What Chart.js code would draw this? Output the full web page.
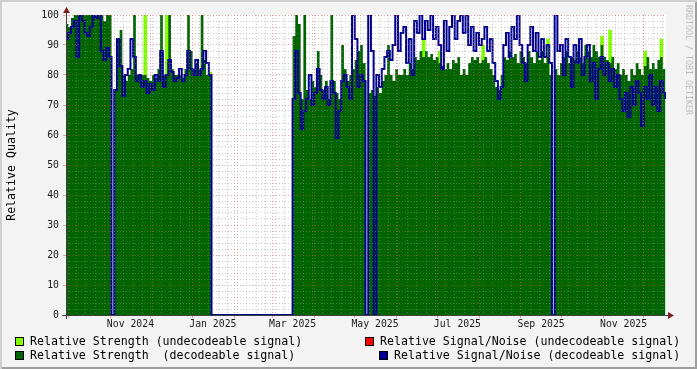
<!DOCTYPE html>
<html>
<head>
<meta charset="utf-8">
<title>Relative Quality</title>
<script src="https://cdn.jsdelivr.net/npm/chart.js@4.4.1/dist/chart.umd.min.js"></script>
<style>
  html, body { margin: 0; padding: 0; background: #f3f3f3; }
  #wrap { position: relative; width: 697px; height: 369px; background: #f3f3f3;
          box-shadow: inset 2px 2px 0 #cfcfcf, inset -2px -2px 0 #9e9e9e;
          font-family: "DejaVu Sans Mono", monospace; color: #000; overflow: hidden; }
  #wrap canvas { position: absolute; left: 0; top: 0; }
  .txt { position: absolute; white-space: pre; font-size: 11.6px; line-height: 14px; }
  .sw { position: absolute; width: 9px; height: 9px; box-sizing: border-box; border: 1px solid #000; }
  #ytitle { position: absolute; left: -89px; top: 158px; width: 200px; height: 14px; text-align: center;
            transform: rotate(-90deg); font-size: 11.6px; line-height: 14px; white-space: pre; }
  #mark { position: absolute; left: 684px; top: 5px; writing-mode: vertical-rl; font-size: 8.3px;
          line-height: 9px; color: #bdbdbd; white-space: pre; }
</style>
</head>
<body>
<div id="wrap">
  <canvas id="chart" width="697" height="369"></canvas>
  <div id="ytitle">Relative Quality</div>
  <div id="mark">RRDTOOL / TOBI OETIKER</div>
  <div class="sw" style="left:15px;top:337px;background:#80ff00"></div>
  <div class="txt" style="left:30px;top:334px">Relative Strength (undecodeable signal)</div>
  <div class="sw" style="left:15px;top:351px;background:#006400"></div>
  <div class="txt" style="left:30px;top:348px">Relative Strength  (decodeable signal)</div>
  <div class="sw" style="left:365px;top:337px;background:#ff0000"></div>
  <div class="txt" style="left:380px;top:334px">Relative Signal/Noise (undecodeable signal)</div>
  <div class="sw" style="left:379px;top:351px;background:#000090"></div>
  <div class="txt" style="left:394px;top:348px">Relative Signal/Noise (decodeable signal)</div>
</div>
<script>
// x axis counts days from 1 Oct 2024
const xMin = -1.7, xMax = 442.4;

const days = [
  -2,0,2,4,6,8,10,12,14,16,18,20,22,24,26,28,30,
  32,
  34,36,38,40,42,44,46,48,50,52,54,56,58,60,62,64,66,68,70,72,
  74,76,78,80,82,84,86,88,90,92,94,96,98,100,102,104,
  106,164,
  166,168,170,172,174,176,178,180,182,184,186,188,190,192,194,196,198,200,202,204,
  206,208,210,212,214,216,218,220,222,224,226,228,230,232,234,236,238,240,242,244,
  246,248,250,252,254,256,258,260,262,264,266,268,270,272,274,276,278,280,282,284,
  286,288,290,292,294,296,298,300,302,304,306,308,310,312,314,316,318,320,322,324,
  326,328,330,332,334,336,338,340,342,344,346,348,350,352,354,356,358,360,362,364,
  366,368,370,372,374,376,378,380,382,384,386,388,390,392,394,396,398,400,402,404,
  406,408,410,412,414,416,418,420,422,424,426,428,430,432,434,436,438,440,442
];

// Relative Strength (decodeable signal)
const strengthDec = [
  97,96,99,100,100,100,100,100,100,100,100,100,100,100,98,100,100,
  0,
  75,92,95,80,78,80,82,100,80,80,80,80,79,78,80,79,82,100,80,80,
  100,82,80,80,80,79,82,100,88,82,84,82,100,85,80,80,
  0,0,
  93,100,97,72,100,75,72,78,76,88,80,75,78,72,100,78,74,72,90,82,
  78,80,82,85,88,90,84,0,74,75,73,76,74,78,80,90,80,78,82,80,
  80,82,80,84,82,86,85,88,86,88,86,87,85,86,84,83,82,84,82,85,
  84,86,80,82,80,84,86,85,86,84,85,86,84,82,80,76,75,80,86,85,
  88,86,87,84,88,86,84,88,86,84,88,85,88,84,86,80,0,82,80,84,
  86,88,84,86,85,88,86,84,90,88,86,90,88,86,90,86,85,84,86,82,
  84,80,82,80,78,82,80,84,82,80,83,86,82,84,82,85,86,82,80
];

// Relative Signal/Noise (decodeable signal)
const snDec = [
  92,94,96,98,86,100,98,94,93,96,100,99,100,88,85,89,86,
  0,
  75,92,83,73,80,82,92,86,78,80,76,78,74,77,75,80,78,88,76,80,
  85,81,78,79,82,78,80,88,82,80,85,80,82,88,84,80,
  0,0,
  72,88,74,62,68,72,80,70,74,82,75,72,76,70,78,74,59,68,78,80,
  76,72,100,92,76,80,78,0,100,88,0,80,76,82,86,88,85,90,100,88,
  94,96,84,92,80,98,94,100,92,98,95,100,92,96,90,82,98,88,96,100,
  92,98,100,94,100,90,96,88,94,90,92,96,88,92,84,78,72,76,90,94,
  86,96,92,100,90,84,78,90,96,88,94,86,92,86,90,84,0,100,88,90,
  80,92,86,76,90,84,92,80,86,90,78,84,72,82,86,80,84,78,82,76,
  80,72,68,74,66,76,70,78,74,63,76,72,80,70,76,68,78,74,72
];

// Relative Strength (undecodeable signal), only where it shows above the decodeable area
const undecDays = [57, 73, 105, 263, 275, 307, 355, 395, 401, 427, 439];
const strengthUndec = [100, 100, 81, 92, 88, 90, 92, 93, 95, 88, 92];

const monthStarts = [0, 31, 61, 92, 123, 151, 182, 212, 243, 273, 304, 335, 365, 396, 426];
const labelDays = [46, 107, 166, 227, 288, 350, 411];
const monthLabels = ['Nov 2024', 'Jan 2025', 'Mar 2025', 'May 2025', 'Jul 2025', 'Sep 2025', 'Nov 2025'];

// weekly minor grid, Mondays
const weekDays = [];
for (let d = -1; d <= xMax; d += 7) weekDays.push(d);

const tickFont = { family: 'DejaVu Sans Mono', size: 9.8 };
const minorGrid = 'rgba(143,143,143,0.45)';
const majorGrid = 'rgba(222,79,79,0.5)';

const frame = {
  id: 'frame',
  beforeDraw(chart) {
    const { ctx, chartArea: a } = chart;
    ctx.save();
    ctx.fillStyle = '#ffffff';
    ctx.fillRect(a.left, a.top, a.right - a.left, a.bottom - a.top);
    ctx.restore();
  },
  afterDraw(chart) {
    const { ctx, chartArea: a } = chart;
    ctx.save();
    ctx.strokeStyle = '#404040';
    ctx.lineWidth = 1;
    ctx.beginPath();
    ctx.moveTo(a.left - 4, a.bottom + 0.5);
    ctx.lineTo(a.right + 4, a.bottom + 0.5);
    ctx.moveTo(a.left + 0.5, a.bottom + 4);
    ctx.lineTo(a.left + 0.5, a.top - 4);
    ctx.stroke();
    ctx.fillStyle = '#801f1f';
    ctx.beginPath();
    ctx.moveTo(a.right + 2, a.bottom - 3);
    ctx.lineTo(a.right + 2, a.bottom + 4);
    ctx.lineTo(a.right + 8, a.bottom + 0.5);
    ctx.closePath();
    ctx.fill();
    ctx.beginPath();
    ctx.moveTo(a.left - 3, a.top - 2);
    ctx.lineTo(a.left + 4, a.top - 2);
    ctx.lineTo(a.left + 0.5, a.top - 8);
    ctx.closePath();
    ctx.fill();
    ctx.restore();
  }
};

new Chart(document.getElementById('chart'), {
  type: 'line',
  data: {
    datasets: [
      {
        type: 'bar',
        label: 'Relative Strength (undecodeable signal)',
        data: undecDays.map((d, i) => ({ x: d, y: strengthUndec[i] })),
        backgroundColor: '#80ff00',
        barThickness: 3,
        order: 3,
        xAxisID: 'x', yAxisID: 'y'
      },
      {
        label: 'Relative Strength  (decodeable signal)',
        data: days.map((d, i) => ({ x: d, y: strengthDec[i] })),
        stepped: true,
        fill: 'origin',
        backgroundColor: '#006400',
        borderColor: 'rgba(0,0,0,0)',
        borderWidth: 0,
        pointRadius: 0,
        order: 2,
        xAxisID: 'x', yAxisID: 'y'
      },
      {
        label: 'Relative Signal/Noise (decodeable signal)',
        data: days.map((d, i) => ({ x: d, y: snDec[i] })),
        stepped: true,
        fill: false,
        borderColor: '#000090',
        borderWidth: 2,
        pointRadius: 0,
        order: 1,
        xAxisID: 'x', yAxisID: 'y'
      }
    ]
  },
  options: {
    responsive: false,
    animation: false,
    layout: { padding: { left: 0, top: 15, right: 31, bottom: 34 } },
    plugins: { legend: { display: false }, tooltip: { enabled: false } },
    scales: {
      y: {
        min: 0, max: 100, position: 'left',
        ticks: { stepSize: 10, font: tickFont, color: '#1a1a1a', padding: 4 },
        grid: { z: 1, color: majorGrid, tickColor: majorGrid, tickLength: 3 },
        border: { display: false, dash: [1, 2] },
        afterFit: s => { s.width = 66; }
      },
      yMinor: {
        min: 0, max: 100, position: 'left',
        ticks: { stepSize: 2, display: false },
        grid: {
          z: 1,
          color: c => (c.tick && c.tick.value % 10 === 0) ? 'rgba(0,0,0,0)' : minorGrid,
          tickColor: c => (c.tick && c.tick.value % 10 === 0) ? 'rgba(0,0,0,0)' : minorGrid,
          tickLength: 2
        },
        border: { display: false, dash: [1, 2] },
        afterFit: s => { s.width = 0; }
      },
      x: {
        type: 'linear', min: xMin, max: xMax, position: 'bottom', offset: false,
        afterBuildTicks: s => { s.ticks = weekDays.map(v => ({ value: v })); },
        ticks: { display: false },
        grid: { z: 1, color: minorGrid, drawTicks: false, offset: false },
        border: { display: false, dash: [1, 2] },
        afterFit: s => { s.height = 0; }
      },
      xMajor: {
        type: 'linear', min: xMin, max: xMax, position: 'bottom', offset: false,
        afterBuildTicks: s => { s.ticks = monthStarts.map(v => ({ value: v })); },
        ticks: { display: false },
        grid: { z: 1, color: majorGrid, tickColor: majorGrid, tickLength: 3, offset: false },
        border: { display: false, dash: [1, 2] },
        afterFit: s => { s.height = 0; }
      },
      xLabels: {
        type: 'linear', min: xMin, max: xMax, position: 'bottom', offset: false,
        afterBuildTicks: s => { s.ticks = labelDays.map(v => ({ value: v })); },
        ticks: {
          autoSkip: false, maxRotation: 0, padding: 4, font: tickFont, color: '#1a1a1a',
          callback: (v, i) => monthLabels[i]
        },
        grid: { display: false, drawTicks: false },
        border: { display: false },
        afterFit: s => { s.height = 20; }
      }
    }
  },
  plugins: [frame]
});
</script>
</body>
</html>
